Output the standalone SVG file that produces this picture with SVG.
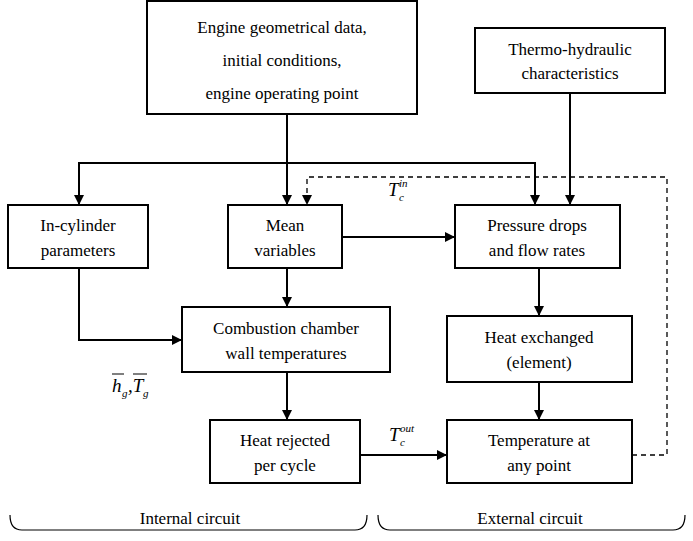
<svg xmlns="http://www.w3.org/2000/svg" width="693" height="541" viewBox="0 0 693 541" font-family="Liberation Serif, DejaVu Serif, serif">
<defs><marker id="a" viewBox="0 0 10 10" refX="10" refY="5" markerWidth="10" markerHeight="10" markerUnits="userSpaceOnUse" orient="auto"><path d="M0,0L10,5L0,10z" fill="#000"/></marker></defs>
<style>
rect{fill:#fff;stroke:#000;stroke-width:2}
text{font-family:"Liberation Serif",serif;font-size:17px;text-anchor:middle;fill:#000}
.c{fill:none;stroke:#000;stroke-width:2}
.d{fill:none;stroke:#000;stroke-width:1.3;stroke-dasharray:5,4}
.b{fill:none;stroke:#000;stroke-width:1.2}
.s{text-anchor:start;font-style:italic;font-size:19px}
.u{text-anchor:start;font-style:italic;font-size:11px}
</style>
<g id="connectors">
<path class="c" d="M287,114V205" marker-end="url(#a)"/>
<path class="c" d="M79,205V163H535V205" marker-end="url(#a)"/>
<path class="c" d="M79,163V205" marker-end="url(#a)"/>
<path class="c" d="M570,93V205" marker-end="url(#a)"/>
<path class="c" d="M342,237H455" marker-end="url(#a)"/>
<path class="c" d="M287,268V307" marker-end="url(#a)"/>
<path class="c" d="M79,268V340H182" marker-end="url(#a)"/>
<path class="c" d="M287,372V420" marker-end="url(#a)"/>
<path class="c" d="M360,455H447" marker-end="url(#a)"/>
<path class="c" d="M539,268V316" marker-end="url(#a)"/>
<path class="c" d="M539,382V420" marker-end="url(#a)"/>
<path class="d" d="M632,455H667V177H307V205" marker-end="url(#a)"/>
<text class="s" x="388" y="196">T</text><text class="u" x="399" y="201">c</text><text class="u" x="399" y="187">in</text>
<text class="s" x="389" y="441">T</text><text class="u" x="400" y="446">c</text><text class="u" x="400" y="432">out</text>
<text class="s" x="112" y="392" fill="#555">h</text><text class="u" x="122" y="397" fill="#555">g</text><text class="s" x="128" y="392" fill="#555">,T</text><text class="u" x="143" y="397" fill="#555">g</text>
<path class="b" d="M112,374H124M133,374H147" stroke="#777"/>
</g>
<g id="n1"><rect x="147" y="1" width="270" height="113"/><text x="282" y="33">Engine geometrical data,</text><text x="282" y="66">initial conditions,</text><text x="282" y="99">engine operating point</text></g>
<g id="n2"><rect x="475" y="28" width="190" height="65"/><text x="570" y="55">Thermo-hydraulic</text><text x="570" y="79">characteristics</text></g>
<g id="n3"><rect x="8" y="205" width="140" height="63"/><text x="78" y="231">In-cylinder</text><text x="78" y="256">parameters</text></g>
<g id="n4"><rect x="228" y="205" width="114" height="63"/><text x="285" y="231">Mean</text><text x="285" y="256">variables</text></g>
<g id="n5"><rect x="455" y="205" width="165" height="63"/><text x="537" y="231">Pressure drops</text><text x="537" y="256">and flow rates</text></g>
<g id="n6"><rect x="182" y="307" width="208" height="65"/><text x="286" y="334">Combustion chamber</text><text x="286" y="359">wall temperatures</text></g>
<g id="n7"><rect x="447" y="316" width="185" height="66"/><text x="539" y="343">Heat exchanged</text><text x="539" y="368">(element)</text></g>
<g id="n8"><rect x="210" y="420" width="150" height="63"/><text x="285" y="446">Heat rejected</text><text x="285" y="471">per cycle</text></g>
<g id="n9"><rect x="447" y="420" width="185" height="63"/><text x="539" y="446">Temperature at</text><text x="539" y="471">any point</text></g>
<g id="braces">
<path class="b" d="M10,515Q10,530 22,530H355Q367,530 367,515"/>
<path class="b" d="M378,515Q378,530 390,530H673Q685,530 685,515"/>
<text x="190" y="524">Internal circuit</text>
<text x="530" y="524">External circuit</text>
</g>
</svg>
